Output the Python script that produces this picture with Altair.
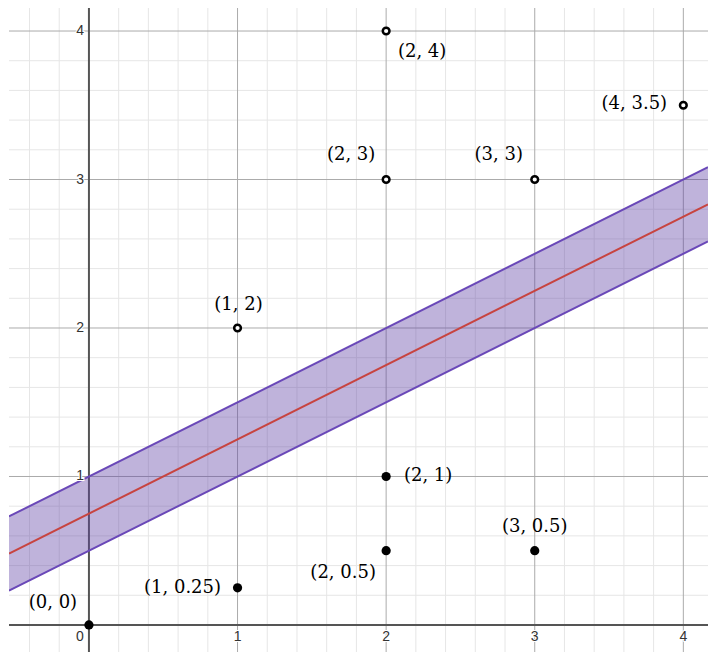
import altair as alt
import pandas as pd

# ---- data ----
filled_x = [0, 1, 2, 2, 3]
filled_y = [0, 0.25, 0.5, 1, 0.5]
filled_lbl = ["(0, 0)", "(1, 0.25)", "(2, 0.5)", "(2, 1)", "(3, 0.5)"]

open_x = [1, 2, 2, 3, 4]
open_y = [2, 3, 4, 3, 3.5]
open_lbl = ["(1, 2)", "(2, 3)", "(2, 4)", "(3, 3)", "(4, 3.5)"]

# regression line y = slope*x + intercept, band +/- half_width
slope = 0.5
intercept = 0.75
half_width = 0.25

major_ticks = [0, 1, 2, 3, 4]
tick_labels = ["0", "1", "2", "3", "4"]

# ---- view ----
XMIN, XMAX = -0.538, 4.166
YMIN, YMAX = -0.182, 4.155
W, H = 699, 644

xs = alt.Scale(domain=[XMIN, XMAX], nice=False, zero=False)
ys = alt.Scale(domain=[YMIN, YMAX], nice=False, zero=False)

# label pixel offsets (style)
filled_off = [(-36, -22), (-55, 0), (-43, 22), (42, 0), (0, -24)]
open_off = [(1, -23), (-35, -25), (36, 21), (-36, -25), (-49, -1)]

# grid lines
minor_x = [k / 5 for k in range(-2, 21) if k % 5 != 0]
minor_y = [k / 5 for k in range(-1, 21) if k % 5 != 0]
major_x = [1, 2, 3, 4]
major_y = [1, 2, 3, 4]

def vrules(vals, color, width):
    return alt.Chart(pd.DataFrame({"x": vals})).mark_rule(
        color=color, strokeWidth=width, clip=True
    ).encode(x=alt.X("x:Q", scale=xs, axis=None))

def hrules(vals, color, width):
    return alt.Chart(pd.DataFrame({"y": vals})).mark_rule(
        color=color, strokeWidth=width, clip=True
    ).encode(y=alt.Y("y:Q", scale=ys, axis=None))

grid = (
    vrules(minor_x, "#e6e6e6", 1)
    + hrules(minor_y, "#e6e6e6", 1)
    + vrules(major_x, "#ababab", 1)
    + hrules(major_y, "#ababab", 1)
    + vrules([0], "#555555", 2)
    + hrules([0], "#555555", 2)
)

band_df = pd.DataFrame({"x": [XMIN, XMAX]})
band_df["mid"] = slope * band_df["x"] + intercept
band_df["lo"] = band_df["mid"] - half_width
band_df["hi"] = band_df["mid"] + half_width

bx = alt.X("x:Q", scale=xs, axis=None)
band = alt.Chart(band_df).mark_area(color="#6042a6", opacity=0.4, clip=True).encode(
    x=bx, y=alt.Y("lo:Q", scale=ys, axis=None), y2="hi:Q"
)
lo_line = alt.Chart(band_df).mark_line(color="#6a48b8", strokeWidth=2, clip=True).encode(
    x=bx, y=alt.Y("lo:Q", scale=ys, axis=None)
)
hi_line = alt.Chart(band_df).mark_line(color="#6a48b8", strokeWidth=2, clip=True).encode(
    x=bx, y=alt.Y("hi:Q", scale=ys, axis=None)
)
mid_line = alt.Chart(band_df).mark_line(color="#c74440", strokeWidth=2, clip=True).encode(
    x=bx, y=alt.Y("mid:Q", scale=ys, axis=None)
)

fdf = pd.DataFrame({"x": filled_x, "y": filled_y, "label": filled_lbl})
odf = pd.DataFrame({"x": open_x, "y": open_y, "label": open_lbl})

pts_f = alt.Chart(fdf).mark_circle(color="black", size=85, opacity=1).encode(
    x=alt.X("x:Q", scale=xs, axis=None), y=alt.Y("y:Q", scale=ys, axis=None)
)
pts_o = alt.Chart(odf).mark_point(
    shape="circle", filled=False, fill="white", fillOpacity=1, stroke="black",
    strokeWidth=2.5, size=45, opacity=1
).encode(x=alt.X("x:Q", scale=xs, axis=None), y=alt.Y("y:Q", scale=ys, axis=None))

label_layers = []
for df, offs in ((fdf, filled_off), (odf, open_off)):
    for i, (dx, dy) in enumerate(offs):
        label_layers.append(
            alt.Chart(df.iloc[[i]]).mark_text(
                font="DejaVu Serif", fontSize=18, color="#000000", dx=dx, dy=dy,
                align="center", baseline="middle"
            ).encode(
                x=alt.X("x:Q", scale=xs, axis=None),
                y=alt.Y("y:Q", scale=ys, axis=None),
                text="label:N",
            )
        )

# tick labels
xt = pd.DataFrame({"x": major_ticks[1:], "y": [0] * 4, "t": tick_labels[1:]})
yt = pd.DataFrame({"x": [0] * 4, "y": major_ticks[1:], "t": tick_labels[1:]})
zt = pd.DataFrame({"x": [0], "y": [0], "t": tick_labels[:1]})

def ticktext(df, dx, dy, align):
    enc = dict(
        x=alt.X("x:Q", scale=xs, axis=None),
        y=alt.Y("y:Q", scale=ys, axis=None),
        text="t:N",
    )
    halo = alt.Chart(df).mark_text(
        font="Liberation Sans", fontSize=14, stroke="white", strokeWidth=2,
        color="white", dx=dx, dy=dy, align=align, baseline="middle"
    ).encode(**enc)
    txt = alt.Chart(df).mark_text(
        font="Liberation Sans", fontSize=14, color="#333333", dx=dx, dy=dy,
        align=align, baseline="middle"
    ).encode(**enc)
    return halo + txt

ticks = ticktext(xt, 0, 12, "center") + ticktext(yt, -5, 0, "right") + ticktext(zt, -9, 12, "center")

chart = alt.layer(
    grid, band, lo_line, hi_line, mid_line, ticks, pts_f, pts_o, *label_layers
).properties(
    width=W, height=H,
    padding={"left": 1, "top": 0, "right": 0, "bottom": 0},
    autosize=alt.AutoSizeParams(type="none"),
).configure_view(stroke=None)

chart.save("out.html", embed_options={"renderer": "svg", "actions": False})
